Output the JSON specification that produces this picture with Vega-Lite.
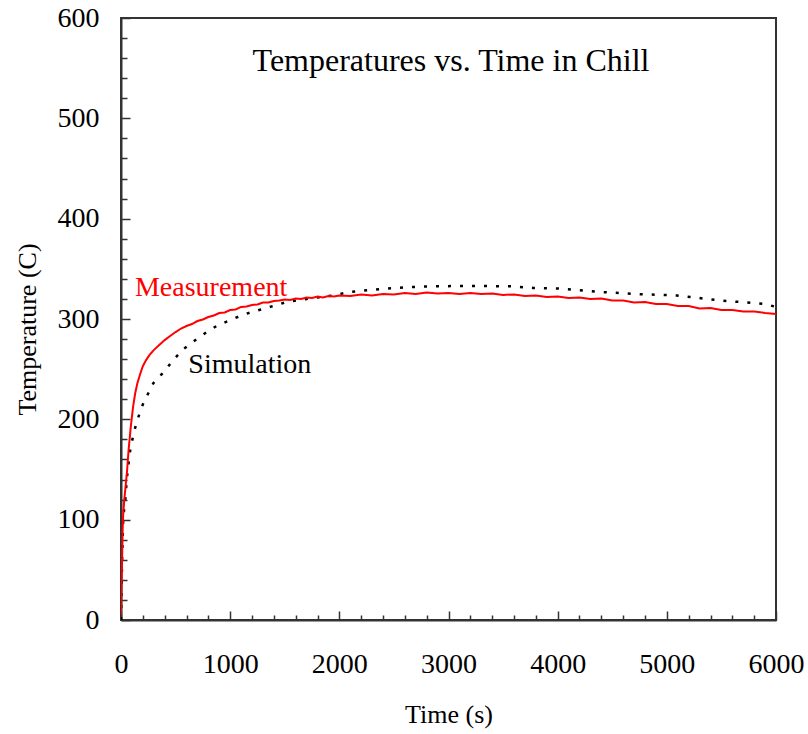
{
  "$schema": "https://vega.github.io/schema/vega-lite/v6.json",
  "width": 655,
  "height": 602,
  "autosize": {"type": "none"},
  "padding": {"top": 18, "left": 121, "right": 32, "bottom": 114},
  "background": "white",
  "title": {
    "text": "Temperatures vs. Time in Chill",
    "orient": "top",
    "anchor": "middle",
    "frame": "group",
    "offset": -54,
    "baseline": "alphabetic",
    "dx": 2.5,
    "dy": 45,
    "font": "Liberation Serif",
    "fontSize": 32,
    "fontWeight": "normal",
    "color": "#000000"
  },
  "config": {
    "view": {"stroke": "#333333", "strokeWidth": 2},
    "axis": {
      "grid": false,
      "domainColor": "#333333",
      "domainWidth": 2,
      "tickColor": "#333333",
      "tickWidth": 1.5,
      "labelFont": "Liberation Serif",
      "labelFontSize": 28,
      "labelColor": "#000000",
      "titleFont": "Liberation Serif",
      "titleFontSize": 26,
      "titleFontWeight": "normal",
      "titleColor": "#000000",
      "labelOverlap": false,
      "labelBound": false,
      "labelFlush": false
    }
  },
  "datasets": {
    "measurement": [
      {"t": 0, "T": 5}, {"t": 5, "T": 30}, {"t": 10, "T": 60}, {"t": 15, "T": 90},
      {"t": 20, "T": 105}, {"t": 30, "T": 120}, {"t": 40, "T": 131}, {"t": 55, "T": 148},
      {"t": 70, "T": 170}, {"t": 90, "T": 193}, {"t": 110, "T": 212}, {"t": 130, "T": 226},
      {"t": 150, "T": 236}, {"t": 175, "T": 245}, {"t": 200, "T": 253}, {"t": 230, "T": 259},
      {"t": 260, "T": 264}, {"t": 300, "T": 269}, {"t": 350, "T": 274}, {"t": 400, "T": 279},
      {"t": 450, "T": 283}, {"t": 500, "T": 287}, {"t": 550, "T": 290.5}, {"t": 600, "T": 293},
      {"t": 650, "T": 295}, {"t": 700, "T": 298}, {"t": 750, "T": 299.5}, {"t": 800, "T": 302},
      {"t": 850, "T": 303.5}, {"t": 900, "T": 306}, {"t": 950, "T": 306.5}, {"t": 1000, "T": 309},
      {"t": 1050, "T": 309.5}, {"t": 1100, "T": 312}, {"t": 1150, "T": 312.5}, {"t": 1200, "T": 314},
      {"t": 1250, "T": 314.5}, {"t": 1300, "T": 316.5}, {"t": 1350, "T": 316.5}, {"t": 1400, "T": 318},
      {"t": 1450, "T": 318.5}, {"t": 1500, "T": 319.5}, {"t": 1550, "T": 319}, {"t": 1600, "T": 320.5},
      {"t": 1650, "T": 320}, {"t": 1700, "T": 321.5}, {"t": 1750, "T": 321}, {"t": 1800, "T": 322.5},
      {"t": 1850, "T": 321.5}, {"t": 1900, "T": 323}, {"t": 1950, "T": 322.5}, {"t": 2000, "T": 323.5},
      {"t": 2100, "T": 323}, {"t": 2200, "T": 324.5}, {"t": 2300, "T": 323.5}, {"t": 2400, "T": 325},
      {"t": 2500, "T": 324.5}, {"t": 2600, "T": 326}, {"t": 2700, "T": 325}, {"t": 2800, "T": 326.5},
      {"t": 2900, "T": 325.5}, {"t": 3000, "T": 326}, {"t": 3100, "T": 325}, {"t": 3200, "T": 326},
      {"t": 3300, "T": 325}, {"t": 3400, "T": 325.5}, {"t": 3500, "T": 324}, {"t": 3600, "T": 324.5},
      {"t": 3700, "T": 323}, {"t": 3800, "T": 323.5}, {"t": 3900, "T": 322}, {"t": 4000, "T": 322.5},
      {"t": 4100, "T": 321}, {"t": 4200, "T": 321.5}, {"t": 4300, "T": 320}, {"t": 4400, "T": 320.5},
      {"t": 4500, "T": 318.5}, {"t": 4600, "T": 318.5}, {"t": 4700, "T": 316.5}, {"t": 4800, "T": 317},
      {"t": 4900, "T": 315}, {"t": 5000, "T": 315}, {"t": 5100, "T": 313}, {"t": 5200, "T": 313},
      {"t": 5300, "T": 310.5}, {"t": 5400, "T": 311}, {"t": 5500, "T": 309}, {"t": 5600, "T": 309},
      {"t": 5700, "T": 307.5}, {"t": 5800, "T": 307.5}, {"t": 5900, "T": 306}, {"t": 6000, "T": 305}
    ],
    "simulation": [
      {"t": 0, "T": 0}, {"t": 5, "T": 30}, {"t": 10, "T": 60}, {"t": 15, "T": 80},
      {"t": 20, "T": 100}, {"t": 30, "T": 112}, {"t": 43, "T": 124}, {"t": 52, "T": 140},
      {"t": 67, "T": 153}, {"t": 76, "T": 164}, {"t": 98, "T": 177}, {"t": 119, "T": 187},
      {"t": 143, "T": 197}, {"t": 174, "T": 207}, {"t": 204, "T": 216}, {"t": 250, "T": 226},
      {"t": 296, "T": 236}, {"t": 373, "T": 245}, {"t": 434, "T": 253}, {"t": 495, "T": 261},
      {"t": 571, "T": 270}, {"t": 693, "T": 280}, {"t": 800, "T": 288}, {"t": 891, "T": 294},
      {"t": 983, "T": 298}, {"t": 1090, "T": 303}, {"t": 1197, "T": 307}, {"t": 1304, "T": 310},
      {"t": 1395, "T": 313}, {"t": 1518, "T": 317}, {"t": 1701, "T": 320}, {"t": 1945, "T": 323.5},
      {"t": 2098, "T": 327}, {"t": 2190, "T": 328}, {"t": 2400, "T": 330}, {"t": 2600, "T": 331.5},
      {"t": 2800, "T": 332.5}, {"t": 3200, "T": 333}, {"t": 3590, "T": 332.5}, {"t": 3775, "T": 331},
      {"t": 3990, "T": 330.5}, {"t": 4388, "T": 327}, {"t": 4690, "T": 325}, {"t": 5090, "T": 323.5},
      {"t": 5487, "T": 318.5}, {"t": 5900, "T": 315}, {"t": 6000, "T": 312}
    ],
    "labels": [
      {"series": "Measurement", "t": 128, "T": 323.4},
      {"series": "Simulation", "t": 617, "T": 246.4}
    ]
  },
  "encoding": {
    "x": {
      "field": "t",
      "type": "quantitative",
      "scale": {"domain": [0, 6000], "nice": false, "zero": false},
      "axis": {
        "title": "Time (s)",
        "titleX": 327.5,
        "titleY": 102.5,
        "titleBaseline": "alphabetic",
        "titleAnchor": null,
        "values": [0, 200, 400, 600, 800, 1000, 1200, 1400, 1600, 1800, 2000, 2200, 2400, 2600, 2800, 3000, 3200, 3400, 3600, 3800, 4000, 4200, 4400, 4600, 4800, 5000, 5200, 5400, 5600, 5800, 6000],
        "format": "d",
        "labelExpr": "datum.value % 1000 === 0 ? datum.label : ''",
        "labelPadding": 39,
        "tickSize": {"condition": {"test": "datum.value % 1000 === 0", "value": -9}, "value": -5}
      }
    },
    "y": {
      "field": "T",
      "type": "quantitative",
      "scale": {"domain": [0, 600], "nice": false, "zero": false},
      "axis": {
        "title": "Temperature (C)",
        "titleX": -86,
        "titleY": 311,
        "titleAngle": -90,
        "titleAlign": "center",
        "titleBaseline": "alphabetic",
        "titleAnchor": null,
        "values": [0, 20, 40, 60, 80, 100, 120, 140, 160, 180, 200, 220, 240, 260, 280, 300, 320, 340, 360, 380, 400, 420, 440, 460, 480, 500, 520, 540, 560, 580, 600],
        "format": "d",
        "labelExpr": "datum.value % 100 === 0 ? datum.label : ''",
        "labelPadding": 31,
        "tickSize": {"condition": {"test": "datum.value % 100 === 0", "value": -9}, "value": -6}
      }
    }
  },
  "layer": [
    {
      "data": {"name": "simulation"},
      "mark": {"type": "line", "color": "#000000", "strokeWidth": 2.5, "strokeDash": [3, 9], "strokeCap": "butt", "clip": true}
    },
    {
      "data": {"name": "measurement"},
      "mark": {"type": "line", "color": "#ff0000", "strokeWidth": 2, "clip": true}
    },
    {
      "data": {"name": "labels"},
      "mark": {"type": "text", "align": "left", "baseline": "alphabetic", "font": "Liberation Serif", "fontSize": 28},
      "encoding": {
        "text": {"field": "series"},
        "color": {
          "field": "series",
          "type": "nominal",
          "scale": {"domain": ["Measurement", "Simulation"], "range": ["#ff0000", "#000000"]},
          "legend": null
        }
      }
    }
  ]
}
